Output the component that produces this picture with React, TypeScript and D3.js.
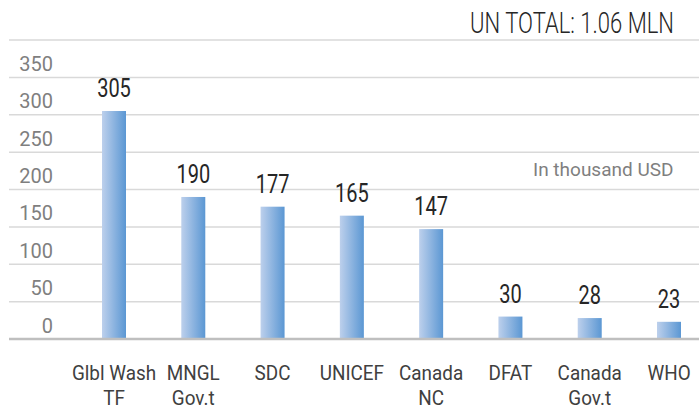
import React from "react";
import * as d3 from "d3";

const categories = [
  ["Glbl Wash", "TF"],
  ["MNGL", "Gov.t"],
  ["SDC"],
  ["UNICEF"],
  ["Canada", "NC"],
  ["DFAT"],
  ["Canada", "Gov.t"],
  ["WHO"],
];
const values = [305, 190, 177, 165, 147, 30, 28, 23];
const gridTicks = [0, 50, 100, 150, 200, 250, 300, 350, 400];
const labelTicks = [0, 50, 100, 150, 200, 250, 300, 350];
const title = "UN TOTAL: 1.06 MLN";
const unitNote = "In thousand USD";

export default function App() {
  const width = 699;
  const height = 412;
  const font = "Roboto, sans-serif";

  const y = d3.scaleLinear().domain([0, 400]).range([339, 40]);
  const x = d3
    .scalePoint<number>()
    .domain(d3.range(categories.length))
    .range([114, 669]);
  const barW = 24;

  return (
    <svg
      width={width}
      height={height}
      style={{ position: "absolute", left: 0, top: 0, display: "block" }}
    >
      <defs>
        <linearGradient id="barGrad" x1="0" x2="1" y1="0" y2="0">
          <stop offset="0%" stopColor="#bdd0ec" />
          <stop offset="100%" stopColor="#5b97d3" />
        </linearGradient>
      </defs>
      <rect width={width} height={height} fill="#ffffff" />

      {/* title */}
      <text
        transform={`translate(674,33) scale(0.76,1)`}
        textAnchor="end"
        fontFamily={font}
        fontWeight={300}
        fontSize={29}
        fill="#262626"
      >
        {title}
      </text>

      {/* gridlines */}
      {gridTicks.map((t) =>
        t === 0 ? null : (
          <line
            key={t}
            x1={9}
            x2={width}
            y1={y(t)}
            y2={y(t)}
            stroke="#d9d9d9"
            strokeWidth={1.5}
          />
        )
      )}

      {/* y labels */}
      {labelTicks.map((t) => (
        <text
          key={t}
          x={53}
          y={y(t) - 6.5}
          textAnchor="end"
          fontFamily={font}
          fontSize={20}
          fill="#7f7f7f"
        >
          {t}
        </text>
      ))}

      <text
        x={533}
        y={176}
        fontFamily={font}
        fontSize={19}
        fill="#7f7f7f"
      >
        {unitNote}
      </text>

      {/* bars */}
      {values.map((v, i) => (
        <rect
          key={i}
          x={(x(i) as number) - barW / 2}
          y={y(v)}
          width={barW}
          height={y(0) - y(v)}
          fill="url(#barGrad)"
        />
      ))}

      {/* baseline */}
      <line
        x1={9}
        x2={width}
        y1={y(0)}
        y2={y(0)}
        stroke="#bfbfbf"
        strokeWidth={2.5}
      />

      {/* value labels */}
      {values.map((v, i) => (
        <text
          key={i}
          transform={`translate(${x(i)},${y(v) - 14}) scale(0.8,1)`}
          textAnchor="middle"
          fontFamily={font}
          fontSize={25}
          fill="#262626"
        >
          {v}
        </text>
      ))}

      {/* category labels */}
      {categories.map((lines, i) =>
        lines.map((ln, j) => (
          <text
            key={`${i}-${j}`}
            transform={`translate(${x(i)},${380 + j * 25}) scale(0.9,1)`}
            textAnchor="middle"
            fontFamily={font}
            fontSize={21}
            fill="#404040"
          >
            {ln}
          </text>
        ))
      )}
    </svg>
  );
}
